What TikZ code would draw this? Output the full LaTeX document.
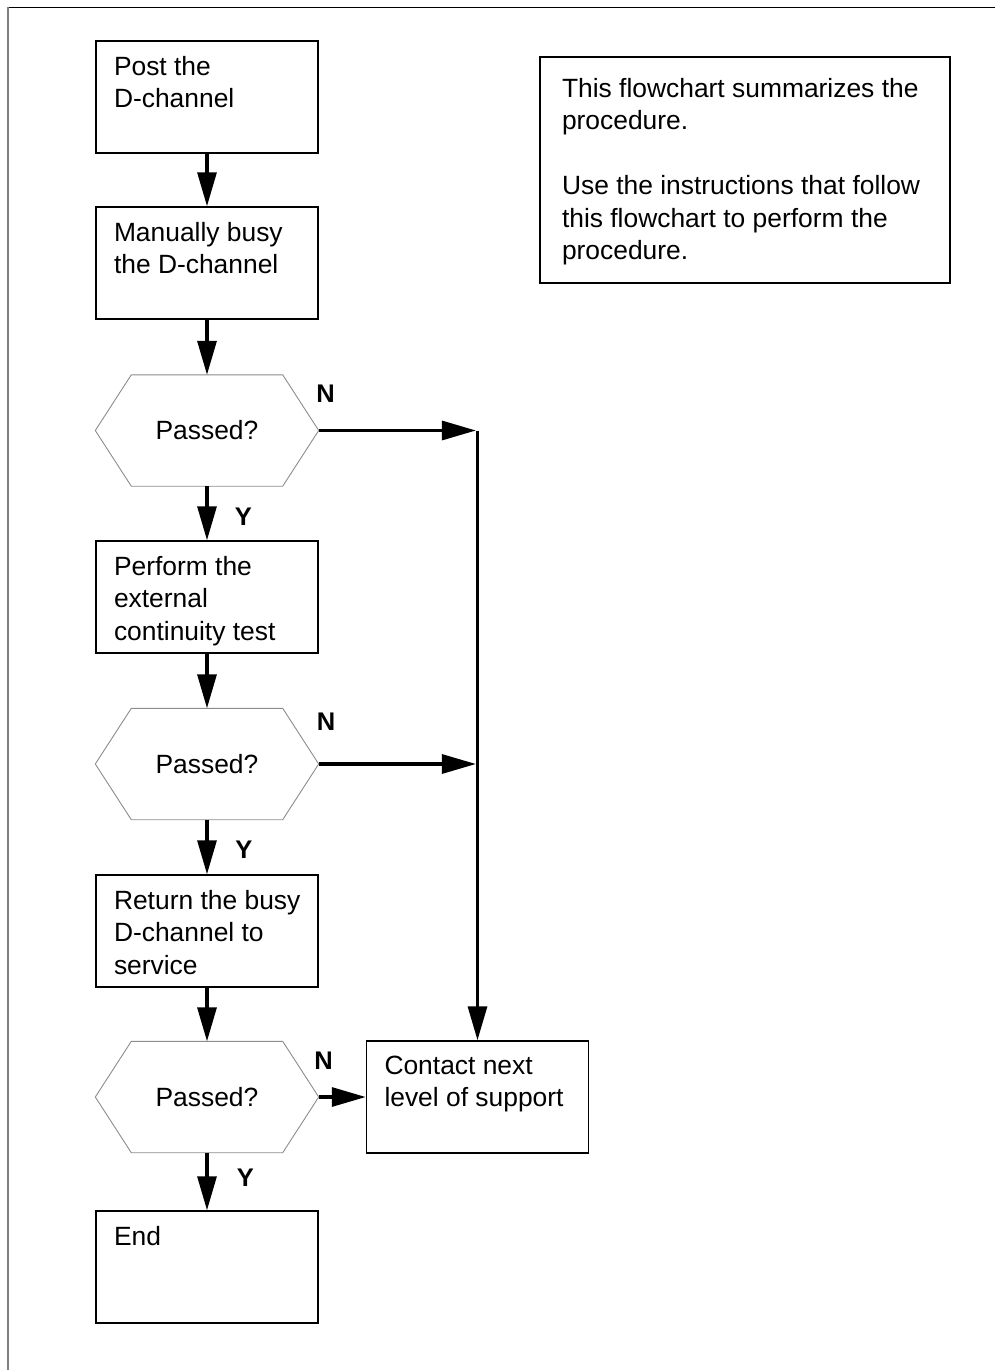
\documentclass[tikz,border=0pt]{standalone}
\usepackage{fontspec}
\setmainfont{Liberation Sans}
\usetikzlibrary{arrows.meta,positioning}
\newcommand{\boxlines}[1]{\makebox[186pt][l]{\parbox[c][82pt][t]{200pt}{\raggedright #1}}}
\tikzset{
  procbox/.style={draw=black,line width=1.5pt,minimum width=222pt,minimum height=112pt,inner sep=0pt},
  decnode/.style={minimum width=223pt,minimum height=111pt,inner sep=0pt},
  decline/.style={draw=black!45,line width=0.9pt,line join=miter},
  notebox/.style={draw=black,line width=2.2pt,minimum width=410pt,minimum height=226pt,inner sep=0pt},
  flowarrow/.style={-{Triangle[length=34pt,width=19pt]},line width=3.2pt},
  branchlbl/.style={font=\fontsize{25.5}{30}\selectfont\bfseries,inner sep=0pt},
}

\begin{document}
\begin{tikzpicture}[x=1pt,y=-1pt,font=\fontsize{26.4}{32.5}\selectfont]
  \useasboundingbox (0,0) rectangle (995,1370);
  % page frame
  \draw[black,line width=1.2pt] (8,7.3) -- (995,7.3);
  \draw[black!50,line width=2pt] (8.3,7) -- (8.3,1370);

  \node[procbox] (post) at (207,97) {\boxlines{Post the\\D-channel}};
  \node[procbox] (mbsy) at (207,263) {\boxlines{Manually busy\\the D-channel}};
  \node[decnode] (pass1) at (207,430.5) {Passed?};
  \node[procbox] (ext) at (207,597) {\boxlines{Perform the\\external\\continuity test}};
  \node[decnode] (pass2) at (207,764) {Passed?};
  \node[procbox] (rts) at (207,931) {\boxlines{Return the busy\\D-channel to\\service}};
  \node[decnode] (pass3) at (207,1097) {Passed?};
  \node[procbox] (end) at (207,1267) {\boxlines{End}};
  \node[procbox] (contact) at (477.5,1097) {\boxlines{Contact next\\level of support}};
  \node[notebox] (note) at (745,170) {\parbox[c][184pt][t]{366pt}{\raggedright
    This flowchart summarizes the\\procedure.\\[32.5pt]Use the instructions that follow\\this flowchart to perform the\\procedure.}};

  % decision outlines
  \foreach \d in {pass1,pass2,pass3}
    \draw[decline] (\d.west) -- ([xshift=36pt]\d.north west) -- ([xshift=-36pt]\d.north east)
      -- (\d.east) -- ([xshift=-36pt]\d.south east) -- ([xshift=36pt]\d.south west) -- cycle;

  % main flow
  \draw[flowarrow] (post) -- (mbsy);
  \draw[flowarrow] (mbsy) -- (pass1);
  \draw[flowarrow] (pass1) -- (ext);
  \draw[flowarrow] (ext) -- (pass2);
  \draw[flowarrow] (pass2) -- (rts);
  \draw[flowarrow] (rts) -- (pass3);
  \draw[flowarrow] (pass3) -- (end);

  % failure branches
  \draw[flowarrow,shorten >=1.6pt] (pass1.east) -- (pass1.east -| contact.north);
  \draw[flowarrow,shorten >=1.6pt] (pass2.east) -- (pass2.east -| contact.north);
  \draw[flowarrow] (pass1.east -| contact.north) -- (contact.north);
  \draw[flowarrow] (pass3.east) -- (contact.west);

  \node[branchlbl] (n1) at (325.5,393.5) {N};
  \node[branchlbl] (y1) at (243.5,516.5) {Y};
  \node[branchlbl] (n2) at (326,722) {N};
  \node[branchlbl] (y2) at (244,849.5) {Y};
  \node[branchlbl] (n3) at (323.5,1060.5) {N};
  \node[branchlbl] (y3) at (245.5,1178) {Y};
\end{tikzpicture}
\end{document}
